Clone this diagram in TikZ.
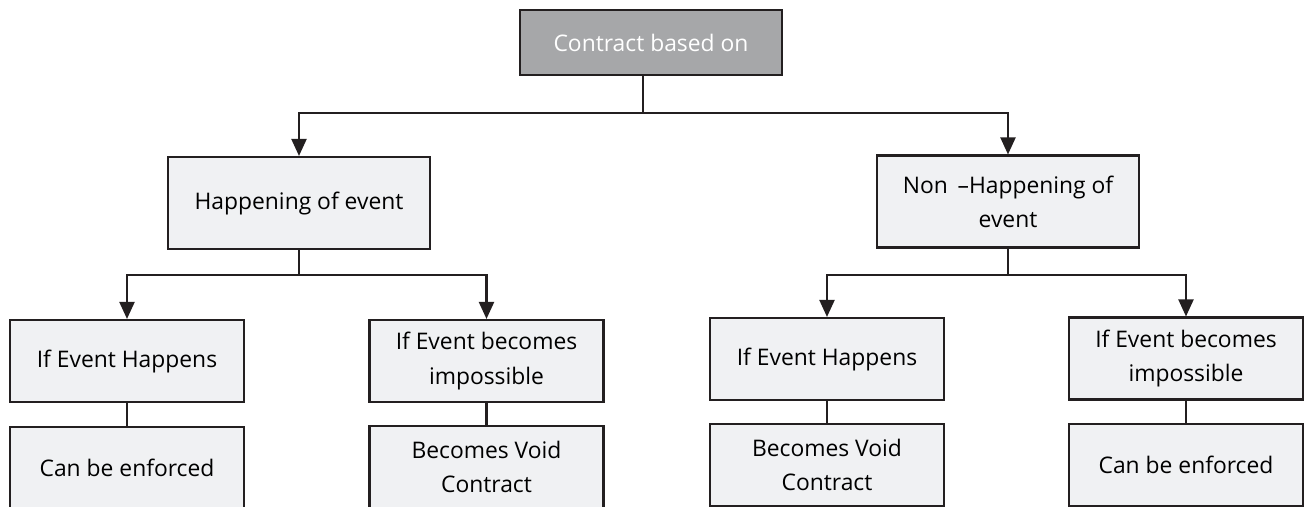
\documentclass[tikz,border=0pt]{standalone}
\usepackage{fontspec}
\setmainfont{Open Sans}
\usetikzlibrary{arrows.meta}
\definecolor{boxline}{HTML}{231F20}
\definecolor{boxfill}{HTML}{F0F1F3}
\definecolor{rootfill}{HTML}{A6A7A9}
\tikzset{arrow/.style={-{Triangle[length=0.34cm,width=0.3cm]}, line width=1.2pt, draw=boxline}}
\tikzset{link/.style={line width=1.2pt, draw=boxline}}
\tikzset{box/.style={draw=boxline, line width=1.2pt, fill=boxfill, align=center,
    minimum width=4.68cm, minimum height=1.64cm, font=\fontsize{13}{19.5}\selectfont}}
\tikzset{bigbox/.style={box, minimum width=5.24cm, minimum height=1.84cm}}
\tikzset{rootbox/.style={bigbox, fill=rootfill, text=white, minimum height=1.3cm}}

\begin{document}
\begin{tikzpicture}
      \useasboundingbox (0,0) rectangle (26.08,-10.12);
      \clip (0,0) rectangle (26.08,-10.12);

      \node[rootbox] (root) at (13.02, -0.85) {Contract based on};
      \node[bigbox] (hap) at (5.98, -4.06) {Happening of event};
      \node[bigbox] (nonhap) at (20.16, -4.03) {Non \,--Happening of\\event};

      \node[box] (hapyes) at (2.54, -7.22) {If Event Happens};
      \node[box] (hapno) at (9.73, -7.22) {If Event becomes\\impossible};
      \node[box] (nonyes) at (16.54, -7.18) {If Event Happens};
      \node[box] (nonno) at (23.72, -7.17) {If Event becomes\\impossible};

      % outcome boxes run past the bottom edge
      \node[box] (hapyesres) at (2.54, -9.36) {Can be enforced};
      \node[box] (hapnores) at (9.73, -9.34) {Becomes Void\\Contract};
      \node[box] (nonyesres) at (16.54, -9.30) {Becomes Void\\Contract};
      \node[box] (nonnores) at (23.72, -9.30) {Can be enforced};

      \draw[arrow] ([xshift=-0.16cm]root.south) -- ++(0,-0.74) -| (hap.north);
      \draw[arrow] ([xshift=-0.16cm]root.south) -- ++(0,-0.74) -| (nonhap.north);

      \draw[arrow] (hap.south) -- ++(0,-0.5) -| (hapyes.north);
      \draw[arrow] (hap.south) -- ++(0,-0.5) -| (hapno.north);
      \draw[arrow] (nonhap.south) -- ++(0,-0.52) -| (nonyes.north);
      \draw[arrow] (nonhap.south) -- ++(0,-0.52) -| (nonno.north);

      \draw[link] (hapyes) -- (hapyesres);
      \draw[link] (hapno) -- (hapnores);
      \draw[link] (nonyes) -- (nonyesres);
      \draw[link] (nonno) -- (nonnores);
\end{tikzpicture}
\end{document}
